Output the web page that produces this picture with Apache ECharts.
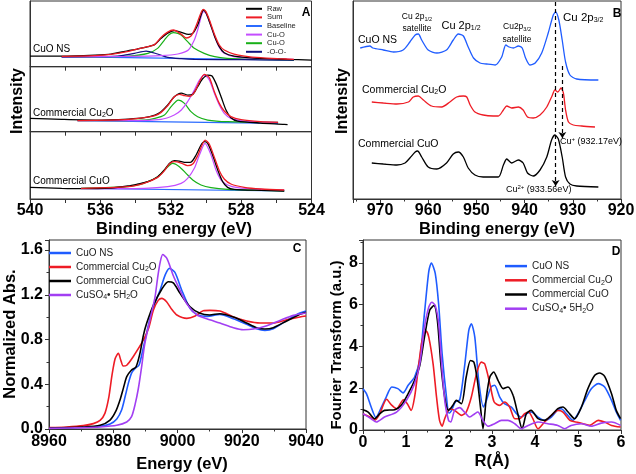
<!DOCTYPE html>
<html><head><meta charset="utf-8">
<script src="https://cdn.jsdelivr.net/npm/echarts/dist/echarts.min.js"></script>
<style>html,body{margin:0;padding:0;background:#fff}#c{width:636px;height:474px}</style>
</head><body><div id="c"></div>
<script>
// ---------- Panel A : O 1s XPS (binding energy eV, intensity a.u.) ----------
const aTopRaw = [[540,32],[538.2,32],[536.3,35],[535.4,38],[534.4,48],[533.9,53],[533.3,60],[532.9,67],[532.55,85],[532.2,100],[531.8,108],[531.4,103],[531.0,97],[530.75,100],[530.47,125],[530.28,155],[530.15,170],[530.0,162],[529.8,135],[529.5,90],[529.24,60],[528.96,42],[528.4,32],[527.25,26],[525.4,22],[524,20]];
const aTopSum = [[538.2,31],[536.3,33],[535.4,37],[534.4,46],[533.9,53],[533.3,60],[532.9,67],[532.55,88],[532.2,103],[531.85,110],[531.4,97],[531.13,86],[530.85,92],[530.66,110],[530.47,135],[530.28,162],[530.15,172],[530.0,165],[529.8,140],[529.5,95],[529.24,65],[528.96,50],[528.4,38],[527.8,32],[526.9,27],[525.9,24],[525.0,22]];
const aTopBase = [[538.2,30],[525.0,20]];
const aTopCuO1 = [[538.2,30],[534.4,31],[532.55,33],[531.6,38],[531.0,50],[530.66,80],[530.47,110],[530.28,148],[530.15,165],[530.0,160],[529.8,135],[529.5,90],[529.24,58],[528.96,40],[528.4,30],[527.25,25],[525.0,22]];
const aTopCuO2 = [[538.2,30],[536.3,30],[534.4,32],[533.3,40],[532.75,55],[532.36,80],[532.1,96],[531.85,102],[531.6,100],[531.41,95],[531.04,75],[530.66,55],[530.1,40],[529.5,30],[528.8,25],[527.25,22],[525.0,20]];
const aTopOO = [[538.2,29],[536.3,30],[535.3,31],[534.8,33],[534.06,40],[533.4,47],[532.75,38],[532.17,28],[531.4,24],[530.66,22],[528,21],[525.0,20]];

const aMidRaw = [[540,40],[538.2,37],[536.3,35],[534.4,38],[533.5,42],[532.9,50],[532.55,60],[532.17,80],[531.8,105],[531.4,116],[531.04,110],[530.75,112],[530.47,135],[530.2,158],[529.9,170],[529.67,168],[529.43,145],[529.14,105],[528.86,65],[528.58,42],[528.2,32],[526.9,26],[525.55,22],[525.36,21]];
const aMidSum = [[537.3,33],[535.4,35],[534.4,37],[533.5,42],[532.9,48],[532.55,58],[532.17,78],[531.8,105],[531.5,112],[531.22,108],[530.94,106],[530.66,118],[530.37,150],[530.09,172],[529.81,162],[529.52,120],[529.24,85],[528.96,62],[528.58,45],[528.0,36],[526.9,30],[525.9,28]];
const aMidBase = [[537.3,33],[525.9,25]];
const aMidCuO1 = [[537.3,33],[534.4,33],[532.55,37],[531.8,50],[531.4,65],[531.04,90],[530.66,125],[530.37,155],[530.09,170],[529.81,155],[529.52,115],[529.24,80],[528.96,55],[528.58,40],[527.8,32],[525.9,28]];
const aMidCuO2 = [[537.3,33],[536.3,33],[533.5,35],[532.9,40],[532.36,50],[531.98,75],[531.57,95],[531.22,85],[530.85,60],[530.47,45],[529.9,35],[528.77,30],[525.9,28]];

const aBotRaw = [[540,35],[538.2,32],[537.1,31],[535.4,33],[534.44,39],[533.87,45],[533.3,52],[532.74,67],[532.36,87],[532.08,107],[531.79,115],[531.51,114],[531.22,110],[530.85,111],[530.56,132],[530.28,162],[530.09,172],[529.9,167],[529.62,132],[529.33,87],[529.05,52],[528.77,35],[528.39,29],[526.87,26],[525.55,24]];
const aBotSum = [[537.1,32],[534.44,37],[533.49,48],[532.74,65],[532.36,85],[532.08,105],[531.79,112],[531.41,108],[531.04,100],[530.75,105],[530.47,130],[530.28,155],[530.05,177],[529.81,165],[529.52,125],[529.24,85],[528.96,60],[528.58,45],[527.82,35],[526.87,30],[525.55,27]];
const aBotBase = [[537.1,32],[525.55,24]];
const aBotCuO1 = [[537.1,31],[533.49,32],[532.17,37],[531.41,47],[531.04,62],[530.66,92],[530.37,132],[530.05,167],[529.71,132],[529.43,87],[529.14,57],[528.77,42],[528.2,34],[526.87,29],[525.55,27]];
const aBotCuO2 = [[537.1,32],[536.33,33],[534.44,37],[533.87,42],[533.3,52],[532.74,67],[532.36,87],[531.89,107],[531.51,97],[531.13,77],[530.75,57],[530.28,42],[529.71,34],[528.77,29],[526.87,26],[525.55,24]];

// ---------- Panel B : Cu 2p XPS ----------
const bCuONS = [[974.1,151],[972.1,153],[971.5,151],[969.3,149],[967.2,147],[965.2,149],[963.8,157],[962.7,164],[962.05,165],[961.35,159],[960.0,149],[958.2,146],[956.2,149],[954.8,159],[953.75,165],[952.7,163],[951.7,152],[950.6,141],[949.25,136],[947.9,135],[946.1,134],[944.75,142],[943.9,154],[943.2,152],[942.3,151],[941.3,153],[940.5,151],[939.8,141],[938.9,134],[937.8,136],[936.45,146],[935.1,166],[934.05,184],[933.55,187],[932.9,179],[932.2,159],[931.5,137],[930.6,124],[929.2,120],[924.7,119]];
const bCu2O = [[971.7,97],[969.3,96],[966.5,95],[964.1,97],[963.1,102],[962.05,103],[961.0,99],[959.3,93],[957.2,92],[955.5,97],[954.1,102],[952.7,103],[952.0,102],[951.3,94],[950.3,87],[948.6,84],[946.5,83],[945.45,83],[944.4,89],[943.7,93],[942.7,91],[941.3,92],[940.3,89],[939.4,82],[938.2,81],[936.8,84],[935.4,92],[934.4,102],[933.7,109],[933.1,107],[932.45,111],[931.95,106],[931.5,89],[930.9,77],[929.9,74],[928.15,73],[925.4,72]];
const bCuO = [[971.7,36],[969.3,35],[966.5,34],[964.8,36],[963.8,41],[962.7,47],[962.2,48],[961.35,42],[960.0,32],[958.2,30],[956.2,36],[954.8,45],[953.75,47],[952.7,42],[951.7,31],[950.3,24],[948.6,22],[945.45,22],[944.4,34],[943.7,40],[942.7,36],[941.3,39],[940.3,36],[939.4,26],[938.2,23],[936.8,29],[935.4,42],[934.4,59],[933.7,64],[933.0,60],[932.2,42],[931.5,22],[930.6,15],[929.2,13],[924.7,12]];
const bMarks = [[933.56,197,13],[932.17,133,61]];

// ---------- Panel C : XANES ----------
const cCuONS = [[8960,0.009],[8970.7,0.015],[8975.9,0.024],[8979,0.045],[8981.1,0.09],[8982.6,0.17],[8983.7,0.29],[8984.7,0.408],[8985.7,0.5],[8986.8,0.542],[8988.0,0.57],[8989.0,0.68],[8989.9,0.796],[8992,1.049],[8994.6,1.243],[8996.2,1.38],[8997.5,1.436],[8999.2,1.40],[9001.3,1.243],[9003.9,1.079],[9006,1.025],[9009.1,1.007],[9013.2,1.025],[9017.4,0.986],[9021.5,0.936],[9024.6,0.897],[9027.2,0.882],[9029.8,0.897],[9034,0.971],[9038.1,1.037],[9040,1.055]];
const cCu2O = [[8960,0.012],[8965.5,0.018],[8970.7,0.03],[8973.8,0.048],[8975.9,0.077],[8977.4,0.14],[8978.6,0.28],[8979.6,0.48],[8980.6,0.63],[8981.6,0.677],[8982.3,0.62],[8983.1,0.563],[8984.2,0.57],[8986.2,0.646],[8989.4,0.796],[8991.0,0.9],[8992.5,1.064],[8994,1.15],[8995.1,1.168],[8996.6,1.138],[8998.2,1.07],[8999.8,1.019],[9002.9,0.989],[9005.5,1.01],[9008,1.058],[9010.1,1.061],[9013.2,1.055],[9015.3,1.031],[9017.4,1.001],[9021.5,0.966],[9025.7,0.948],[9029.8,0.948],[9034,0.977],[9038.1,1.001],[9040,1.01]];
const cCuO = [[8960,0.009],[8970.7,0.018],[8975.9,0.033],[8979,0.08],[8980.8,0.16],[8982.1,0.26],[8983.2,0.37],[8984.2,0.468],[8985.7,0.527],[8987.1,0.556],[8988.3,0.676],[8989.4,0.84],[8990.4,0.945],[8992.5,1.108],[8995.1,1.25],[8997.1,1.317],[8998.7,1.307],[9000.8,1.213],[9003.9,1.093],[9007,1.034],[9010,1.02],[9013.2,1.031],[9017.4,1.001],[9021.5,0.948],[9024.6,0.906],[9027.2,0.894],[9029.8,0.906],[9034,0.966],[9038.1,1.025],[9040,1.043]];
const cCuSO4 = [[8960,0.006],[8970.7,0.012],[8975.9,0.018],[8981.1,0.033],[8984.2,0.063],[8985.7,0.11],[8986.8,0.22],[8987.8,0.36],[8988.8,0.55],[8989.8,0.76],[8991.4,0.974],[8993.0,1.18],[8993.8,1.35],[8994.6,1.49],[8995.4,1.56],[8996.6,1.53],[8997.6,1.46],[8998.7,1.37],[9000.3,1.27],[9002.9,1.12],[9006,1.02],[9009.1,0.986],[9013.2,0.948],[9017.4,0.906],[9020.5,0.888],[9023.6,0.894],[9027.8,0.924],[9031.9,0.971],[9036.1,1.016],[9040,1.037]];

// ---------- Panel D : Fourier transform ----------
const dCuONS = [[0,1.98],[0.08,1.74],[0.19,1.10],[0.3,0.6],[0.43,1.10],[0.54,1.58],[0.67,2.06],[0.81,1.98],[0.93,1.78],[1.05,2.14],[1.20,2.54],[1.32,3.4],[1.43,5.6],[1.53,7.6],[1.59,8.0],[1.68,7.5],[1.76,6.0],[1.84,3.65],[1.94,1.6],[2.0,0.8],[2.05,0.9],[2.15,1.35],[2.25,1.45],[2.36,3.01],[2.46,4.77],[2.52,5.09],[2.60,4.45],[2.69,2.38],[2.80,1.1],[2.87,1.42],[2.98,2.06],[3.06,2.14],[3.18,1.58],[3.29,1.26],[3.45,1.10],[3.57,0.78],[3.68,0.62],[3.80,0.78],[3.91,0.86],[4.07,0.62],[4.22,0.46],[4.38,0.62],[4.53,0.97],[4.61,1.02],[4.73,0.78],[4.88,0.46],[5.00,0.78],[5.16,1.42],[5.31,1.98],[5.47,2.22],[5.62,2.06],[5.78,1.42],[5.89,0.86],[5.99,0.46]];
const dCu2O = [[0,0.78],[0.16,0.62],[0.28,0.48],[0.39,0.78],[0.55,1.47],[0.66,1.2],[0.78,1.02],[0.94,1.45],[1.03,1.26],[1.12,0.94],[1.20,1.58],[1.28,2.85],[1.36,4.13],[1.42,4.61],[1.47,4.74],[1.53,4.45],[1.63,3.17],[1.71,1.58],[1.78,0.46],[1.84,0.18],[1.90,0.54],[2.02,1.02],[2.13,0.94],[2.29,0.70],[2.40,0.86],[2.52,1.58],[2.64,2.70],[2.75,3.25],[2.83,3.17],[2.95,2.22],[3.05,1.34],[3.18,1.18],[3.29,1.34],[3.41,1.10],[3.53,0.54],[3.64,0.54],[3.76,0.78],[3.85,0.86],[3.95,0.54],[4.07,0.06],[4.22,0.38],[4.38,0.70],[4.53,0.94],[4.65,0.86],[4.81,0.46],[4.96,0.38],[5.12,0.30],[5.27,0.22],[5.47,0.46],[5.62,0.38],[5.78,0.22],[5.99,0.14]];
const dCuO = [[0,0.97],[0.12,0.86],[0.27,0.54],[0.39,0.78],[0.50,0.94],[0.74,0.97],[0.89,1.18],[1.05,1.74],[1.20,2.38],[1.32,3.09],[1.43,4.45],[1.55,5.73],[1.65,5.96],[1.73,5.25],[1.81,3.17],[1.90,1.58],[1.99,0.94],[2.09,1.18],[2.17,1.42],[2.29,1.26],[2.40,2.54],[2.50,3.33],[2.58,3.25],[2.66,2.38],[2.74,0.94],[2.79,0.06],[2.87,1.58],[2.95,2.54],[3.04,2.78],[3.14,2.38],[3.26,1.98],[3.37,2.06],[3.49,1.66],[3.60,0.78],[3.70,0.06],[3.80,0.78],[3.91,0.94],[4.07,0.54],[4.22,0.46],[4.38,0.70],[4.53,1.02],[4.65,1.10],[4.77,0.86],[4.92,0.54],[5.08,1.10],[5.23,1.98],[5.39,2.62],[5.50,2.73],[5.62,2.57],[5.78,1.74],[5.89,0.94],[5.99,0.54]];
const dCuSO4 = [[0,0.78],[0.19,0.54],[0.31,0.38],[0.50,0.62],[0.78,0.86],[1.01,1.42],[1.20,2.22],[1.32,3.17],[1.43,4.93],[1.53,5.89],[1.60,6.12],[1.68,5.96],[1.76,5.09],[1.84,2.85],[1.91,1.26],[1.99,0.46],[2.04,0.38],[2.13,0.94],[2.25,1.07],[2.36,0.86],[2.48,0.62],[2.60,0.78],[2.67,0.86],[2.79,0.46],[2.91,0.18],[3.06,0.30],[3.22,0.46],[3.37,0.46],[3.53,0.30],[3.68,0.06],[3.84,0.22],[4.07,0.38],[4.30,0.30],[4.53,0.22],[4.69,0.06],[4.84,0.22],[5.08,0.30],[5.31,0.18],[5.54,0.33],[5.78,0.38],[5.99,0.22]];

const namesCD = ['CuO NS','Commercial Cu2O','Commercial CuO','CuSO4• 5H2O'];
const namesA = ['Raw','Sum','Baseline','Cu-O','Cu-O ','-O-O-'];

// ---------- styling ----------
const FF = '"Liberation Sans", Arial, Helvetica, sans-serif';
const K = '#000000', R = '#ee1c25', BL = '#1f5cff', MG = '#c44dff', GR = '#18b018', NV = '#12127f', BASE = '#2b6bff', PU = '#a23ff2';
const AXC = '#333333';

function line(name, data, color, xi, width, z) {
  return {type:'line', name, data, xAxisIndex:xi, yAxisIndex:xi, showSymbol:false, symbol:'none',
    smooth:0.25, color, itemStyle:{color}, lineStyle:{color, width:width||1.3}, z:z||2, animation:false, silent:true};
}
function xAx(gi, o) {
  return Object.assign({gridIndex:gi, type:'value', splitLine:{show:false},
    axisLine:{show:true, onZero:false, lineStyle:{color:AXC, width:1}},
    axisTick:{show:true, inside:false, length:4, lineStyle:{color:AXC}},
    axisLabel:{show:true, margin:3, color:'#000', fontSize:15, fontWeight:'bold', fontFamily:FF}}, o);
}
function yAx(gi, o) {
  return Object.assign({gridIndex:gi, type:'value', splitLine:{show:false},
    axisLine:{show:true, onZero:false, lineStyle:{color:AXC, width:1}},
    axisTick:{show:false}, axisLabel:{show:false}}, o);
}
function T(x, y, text, o) {
  o = o || {};
  const st = {text, fill:'#000', fontSize:o.fs||10, fontWeight:o.fw||'normal', fontFamily:FF,
    align:o.al||'left', textAlign:o.al||'left', verticalAlign:'middle', textVerticalAlign:'middle',
    rich:{s:{fontSize:o.ss||7, fontFamily:FF, padding:[o.sp||5,0,0,0]},
          p:{fontSize:o.ss||6.5, fontFamily:FF, padding:[0,0,o.sp||5,0]}}};
  return {type:'text', x, y, rotation:o.rot||0, style:st, z:100, silent:true};
}
const legendFmt = n => ({'Commercial Cu2O':'Commercial Cu{s|2}O','CuSO4• 5H2O':'CuSO{s|4}• 5H{s|2}O'}[n] || n);

const gridBase = {show:true, borderColor:AXC, borderWidth:1, backgroundColor:'transparent', containLabel:false, outerBoundsMode:'none'};
const option = {
  animation:false,
  backgroundColor:'#fff',
  textStyle:{fontFamily:FF},
  grid:[
    Object.assign({left:30, right:324.5, top:1, bottom:407.3}, gridBase),
    Object.assign({left:30, right:324.5, top:66.7, bottom:342.3}, gridBase),
    Object.assign({left:30, right:324.5, top:131.7, bottom:275}, gridBase),
    Object.assign({left:353, right:15, top:1, bottom:275}, gridBase),
    Object.assign({left:49, right:330, top:240, bottom:45}, gridBase),
    Object.assign({left:363, right:15, top:240, bottom:44}, gridBase)
  ],
  xAxis:[
    xAx(0,{min:524, max:540, interval:2, inverse:true, axisLabel:{show:false}}),
    xAx(1,{min:524, max:540, interval:2, inverse:true, axisLabel:{show:false}}),
    xAx(2,{min:524, max:540, interval:2, inverse:true, axisLabel:{show:true, margin:4, color:'#000', fontSize:16, fontWeight:'bold', fontFamily:FF, formatter:v => (v%4===0 ? String(v) : '')}}),
    xAx(3,{min:920, max:975.6, interval:10, inverse:true, minorTick:{show:true, splitNumber:2, length:2.5, lineStyle:{color:AXC}},
      axisLabel:{show:true, margin:4, color:'#000', fontSize:16, fontWeight:'bold', fontFamily:FF, formatter:v => (Math.abs(v%10)<1e-6 ? String(v) : '')}}),
    xAx(4,{min:8960, max:9040, interval:20, minorTick:{show:true, splitNumber:2, length:2.5, lineStyle:{color:AXC}},
      axisLabel:{show:true, margin:5, color:'#000', fontSize:16, fontWeight:'bold', fontFamily:FF, formatter:v => String(v)}}),
    xAx(5,{min:0, max:6, interval:1, minorTick:{show:true, splitNumber:2, length:2.5, lineStyle:{color:AXC}},
      axisLabel:{show:true, margin:5, color:'#000', fontSize:16, fontWeight:'bold', fontFamily:FF, formatter:v => String(v)}})
  ],
  yAxis:[
    yAx(0,{min:0, max:197}),
    yAx(1,{min:0, max:195}),
    yAx(2,{min:0, max:202}),
    yAx(3,{min:0, max:198}),
    yAx(4,{min:0, max:1.69, interval:0.4, axisTick:{show:true, length:4, lineStyle:{color:AXC}},
      minorTick:{show:true, splitNumber:2, length:2.5, lineStyle:{color:AXC}},
      axisLabel:{show:true, margin:6, color:'#000', fontSize:16, fontWeight:'bold', fontFamily:FF,
        formatter:v => (Math.abs(v/0.4 - Math.round(v/0.4))<1e-6 ? v.toFixed(1) : '')}}),
    yAx(5,{min:0, max:9.1, interval:2, axisTick:{show:true, length:4, lineStyle:{color:AXC}},
      minorTick:{show:true, splitNumber:2, length:2.5, lineStyle:{color:AXC}},
      axisLabel:{show:true, margin:5, color:'#000', fontSize:16, fontWeight:'bold', fontFamily:FF,
        formatter:v => (Math.abs(v - Math.round(v))<1e-6 && Math.round(v)%2===0 ? String(Math.round(v)) : '')}})
  ],
  legend:[
    {left:246, top:4.5, orient:'vertical', icon:'rect', itemWidth:16, itemHeight:2, itemGap:0, padding:0,
      data:namesA, selectedMode:false, textStyle:{fontSize:7.5, lineHeight:8.6, color:'#222', fontFamily:FF}},
    {left:49, top:246, orient:'vertical', icon:'rect', itemWidth:22, itemHeight:2.5, itemGap:0, padding:0,
      data:namesCD, selectedMode:false, formatter:legendFmt,
      textStyle:{fontSize:10, lineHeight:14, color:'#222', fontFamily:FF, rich:{s:{fontSize:7, fontFamily:FF, color:'#222', padding:[5,0,0,0]}}}},
    {left:505, top:259, orient:'vertical', icon:'rect', itemWidth:22, itemHeight:2.5, itemGap:0, padding:0,
      data:namesCD, selectedMode:false, formatter:legendFmt,
      textStyle:{fontSize:10, lineHeight:14.2, color:'#222', fontFamily:FF, rich:{s:{fontSize:7, fontFamily:FF, color:'#222', padding:[5,0,0,0]}}}}
  ],
  series:[
    line('Baseline', aTopBase, BASE, 0, 1.2), line('Cu-O ', aTopCuO2, GR, 0, 1.2), line('-O-O-', aTopOO, NV, 0, 1.2),
    line('Cu-O', aTopCuO1, MG, 0, 1.2), line('Raw', aTopRaw, K, 0, 1.3), line('Sum', aTopSum, R, 0, 1.3),
    line('Baseline', aMidBase, BASE, 1, 1.2), line('Cu-O ', aMidCuO2, GR, 1, 1.2),
    line('Cu-O', aMidCuO1, MG, 1, 1.2), line('Raw', aMidRaw, K, 1, 1.3), line('Sum', aMidSum, R, 1, 1.3),
    line('Baseline', aBotBase, BASE, 2, 1.2), line('Cu-O ', aBotCuO2, GR, 2, 1.2),
    line('Cu-O', aBotCuO1, MG, 2, 1.2), line('Raw', aBotRaw, K, 2, 1.3), line('Sum', aBotSum, R, 2, 1.3),
    line('B CuO NS', bCuONS, BL, 3, 1.3), line('B Cu2O', bCu2O, R, 3, 1.3),
    Object.assign(line('B CuO', bCuO, K, 3, 1.3), {markLine:{silent:true, animation:false, symbol:['none','arrow'], symbolSize:6,
      label:{show:false}, lineStyle:{type:[4,3], color:'#000', width:1.2},
      data: bMarks.map(m => [{coord:[m[0], m[1]], symbol:'none'}, {coord:[m[0], m[2]], symbol:'arrow'}])}}),
    line('CuO NS', cCuONS, BL, 4, 1.6), line('Commercial Cu2O', cCu2O, R, 4, 1.6), line('Commercial CuO', cCuO, K, 4, 1.6), line('CuSO4• 5H2O', cCuSO4, PU, 4, 1.6),
    line('CuO NS', dCuONS, BL, 5, 1.6), line('Commercial Cu2O', dCu2O, R, 5, 1.6), line('Commercial CuO', dCuO, K, 5, 1.6), line('CuSO4• 5H2O', dCuSO4, PU, 5, 1.6)
  ],
  graphic:[
    // panel A
    T(306, 13, 'A', {fs:12, fw:'bold', al:'center'}),
    T(33, 49, 'CuO NS', {fs:10}),
    T(33, 113, 'Commercial Cu{s|2}O', {fs:10}),
    T(33, 181, 'Commercial CuO', {fs:10}),
    T(18, 101, 'Intensity', {fs:16, fw:'bold', al:'center', rot:Math.PI/2}),
    T(174, 229, 'Binding energy (eV)', {fs:16.5, fw:'bold', al:'center'}),
    // panel B
    T(617, 14, 'B', {fs:12, fw:'bold', al:'center'}),
    T(358, 40.5, 'CuO NS', {fs:10.5}),
    T(362, 90, 'Commercial Cu{s|2}O', {fs:10.5}),
    T(358, 144, 'Commercial CuO', {fs:10.5}),
    T(417, 17, 'Cu 2p{s|1/2}', {fs:8.5, al:'center', ss:5.5, sp:4}),
    T(417, 28.5, 'satellite', {fs:8.5, al:'center'}),
    T(461, 26, 'Cu 2p{s|1/2}', {fs:11, al:'center', ss:7, sp:5}),
    T(517, 27, 'Cu2p{s|3/2}', {fs:8.5, al:'center', ss:5.5, sp:4}),
    T(517, 39.5, 'satellite', {fs:8.5, al:'center'}),
    T(563, 18, 'Cu 2p{s|3/2}', {fs:11.5, ss:7, sp:5}),
    T(560, 142, 'Cu{p|+} (932.17eV)', {fs:9, ss:6, sp:5}),
    T(506, 190, 'Cu{p|2+} (933.56eV)', {fs:9, ss:6, sp:5}),
    T(343, 101, 'Intensity', {fs:16, fw:'bold', al:'center', rot:Math.PI/2}),
    T(497, 229, 'Binding energy (eV)', {fs:16.5, fw:'bold', al:'center'}),
    // panel C
    T(297, 249, 'C', {fs:12, fw:'bold', al:'center'}),
    T(10, 334, 'Normalized Abs.', {fs:16.5, fw:'bold', al:'center', rot:Math.PI/2}),
    T(182, 464, 'Energy (eV)', {fs:16.5, fw:'bold', al:'center'}),
    // panel D
    T(616, 252, 'D', {fs:12, fw:'bold', al:'center'}),
    T(337, 345, 'Fourier Transform (a.u.)', {fs:15, fw:'bold', al:'center', rot:Math.PI/2}),
    T(492, 461, 'R(Å)', {fs:16.5, fw:'bold', al:'center'})
  ]
};
const chart = echarts.init(document.getElementById('c'), null, {renderer:'canvas'});
chart.setOption(option);
</script></body></html>
